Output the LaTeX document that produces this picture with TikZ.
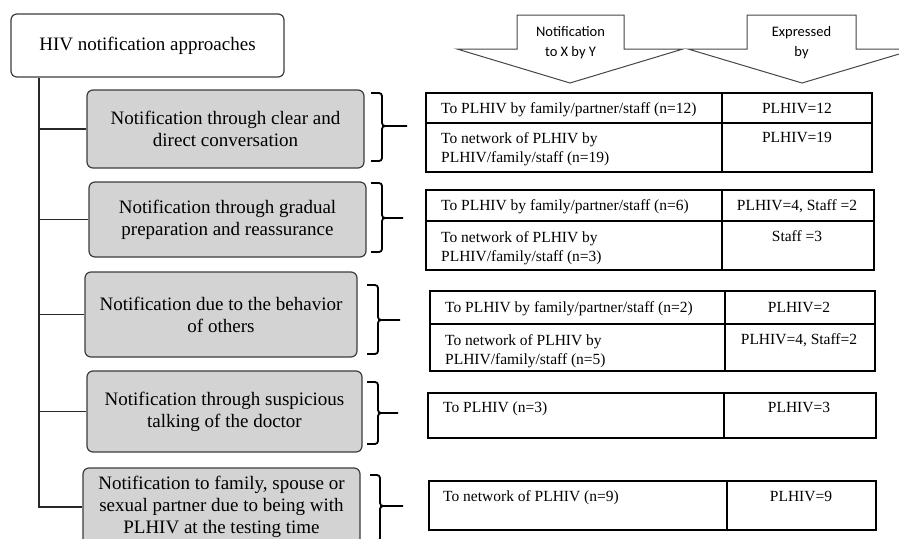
\documentclass[tikz,border=0pt]{standalone}
\usepackage{fontspec}
\setmainfont{Liberation Serif}
\newfontfamily\calib{Carlito}
\definecolor{boxgray}{RGB}{211,211,211}
\definecolor{boxline}{RGB}{60,60,60}
\definecolor{arrline}{RGB}{70,70,70}
\definecolor{spinecol}{RGB}{40,40,40}
\newcommand\mybrace[6]{%
  \draw[brace] (#1,#3) -- (#2,#3) -- (#2,#5) -- (#6,#5);
  \draw[brace] (#2+12,#5) -- (#2,#5) -- (#2,#4) -- (#1,#4);}
\begin{document}
\begin{tikzpicture}[x=1pt,y=-1pt,
  gbox/.style={draw=boxline, fill=boxgray, rounded corners=6pt, line width=1.2pt, align=center, inner sep=0pt, font=\fontsize{19}{22}\selectfont},
  wbox/.style={gbox, fill=white},
  brace/.style={draw=black, line width=1.8pt, rounded corners=3pt},
  tab/.style={draw=black, line width=1.3pt},
  ttxt/.style={inner sep=0pt, font=\fontsize{15.5}{19}\selectfont, text height=10.3pt, text depth=0pt},
  ttxtm/.style={inner sep=0pt, font=\fontsize{15.5}{19}\selectfont, align=left, anchor=north west},
  harrow/.style={draw=arrline, fill=white, line width=1pt},
  htxt/.style={font=\calib\fontsize{14.5}{20}\selectfont, align=center, inner sep=0pt},
  spine/.style={draw=spinecol, line width=1.1pt}]
\useasboundingbox (0,0) rectangle (899,538);
\clip (0,0) rectangle (899,538);

% header arrows
\draw[harrow] (517,15) -- (624,15) -- (624,49) -- (683,49) -- (570,83) -- (457,49) -- (517,49) -- cycle;
\node[htxt] (h1) at (570.5,43) {Notification\\to X by Y};
\draw[harrow] (747,15) -- (856,15) -- (856,49) -- (916,49) -- (802,83) -- (688,49) -- (747,49) -- cycle;
\node[htxt] (h2) at (801.5,43) {Expressed\\by};

% boxes
\node[wbox, minimum width=273pt, minimum height=63pt] (top) at (147.5,45.5) {HIV notification approaches};
\node[gbox, minimum width=277pt, minimum height=78pt] (b1) at (225.5,129) {Notification through clear and\\direct conversation};
\node[gbox, minimum width=277pt, minimum height=75pt] (b2) at (227.5,219.5) {Notification through gradual\\preparation and reassurance};
\node[gbox, minimum width=272pt, minimum height=85pt] (b3) at (221,314.5) {Notification due to the behavior\\of others};
\node[gbox, minimum width=275pt, minimum height=81pt] (b4) at (224.5,411.5) {Notification through suspicious\\talking of the doctor};
\node[gbox, minimum width=277pt, minimum height=78pt] (b5) at (221.5,507) {Notification to family, spouse or\\sexual partner due to being with\\PLHIV at the testing time};

% spine
\coordinate (sp) at (39,77);
\draw[spine] (top.south -| sp) -- (b5.west -| sp) -- (b5.west);
\foreach \b in {b1,b2,b3,b4} \draw[spine] (\b.west -| sp) -- (\b.west);

% braces
\mybrace{371}{382}{93}{161}{126}{407}
\mybrace{371}{382}{183}{252}{218}{403}
\mybrace{367}{378}{285}{354}{320}{400}
\mybrace{367}{378}{382}{444}{413}{398}
\mybrace{370}{380}{475}{541}{506}{403}

% table 1
\draw[tab] (426,93) rectangle (872,172);
\draw[tab] (426,123) -- (872,123);
\draw[tab] (722,93) -- (722,172);
\node[ttxt, anchor=west] (t1a) at (441,108) {To PLHIV by family/partner/staff (n=12)};
\node[ttxt] (t1b) at (797,108) {PLHIV=12};
\node[ttxtm] (t1c) at (441,132.7) {To network of PLHIV by\\PLHIV/family/staff (n=19)};
\node[ttxt] (t1d) at (797,137) {PLHIV=19};

% table 2
\draw[tab] (426,190) rectangle (874,270);
\draw[tab] (426,221) -- (874,221);
\draw[tab] (722,190) -- (722,270);
\node[ttxt, anchor=west] (t2a) at (441,205) {To PLHIV by family/partner/staff (n=6)};
\node[ttxt] (t2b) at (797,205) {PLHIV=4, Staff =2};
\node[ttxtm] (t2c) at (441,231.7) {To network of PLHIV by\\PLHIV/family/staff (n=3)};
\node[ttxt] (t2d) at (797,236) {Staff =3};

% table 3
\draw[tab] (430,291) rectangle (875,371);
\draw[tab] (430,324) -- (875,324);
\draw[tab] (725,291) -- (725,371);
\node[ttxt, anchor=west] (t3a) at (445,307) {To PLHIV by family/partner/staff (n=2)};
\node[ttxt] (t3b) at (799,307) {PLHIV=2};
\node[ttxtm] (t3c) at (445,334.7) {To network of PLHIV by\\PLHIV/family/staff (n=5)};
\node[ttxt] (t3d) at (799,339) {PLHIV=4, Staff=2};

% table 4
\draw[tab] (428,393) rectangle (876,438);
\draw[tab] (724,393) -- (724,438);
\node[ttxt, anchor=west] (t4a) at (443,407) {To PLHIV (n=3)};
\node[ttxt] (t4b) at (799,407) {PLHIV=3};

% table 5
\draw[tab] (429,481) rectangle (876,530);
\draw[tab] (727,481) -- (727,530);
\node[ttxt, anchor=west] (t5a) at (443,496) {To network of PLHIV (n=9)};
\node[ttxt] (t5b) at (801,496) {PLHIV=9};
\end{tikzpicture}
\end{document}
